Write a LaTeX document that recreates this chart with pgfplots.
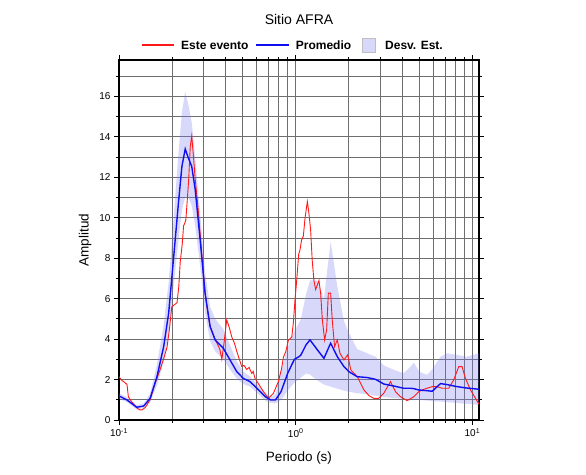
\documentclass[border=0pt]{standalone}
\usepackage{fontspec}
\setmainfont{Liberation Sans}
\usepackage{pgfplots}
\usepackage{pgfplotstable}
\pgfplotsset{compat=1.18}
\usepgfplotslibrary{fillbetween}
\definecolor{bandcol}{RGB}{216,216,250}
\definecolor{bandbase}{RGB}{120,120,240}
\definecolor{evred}{RGB}{255,25,25}
\definecolor{avblue}{RGB}{15,15,240}
\definecolor{gridcol}{RGB}{110,110,110}

\pgfplotstableread{
x m u l
0.100 1.19 1.32 1.05
0.111 0.99 1.12 0.88
0.126 0.63 0.74 0.52
0.138 0.69 0.82 0.58
0.150 1.07 1.30 0.88
0.164 2.14 2.75 1.70
0.179 3.63 4.70 2.90
0.191 5.28 6.80 4.30
0.204 8.08 10.00 6.60
0.217 10.73 13.20 8.90
0.227 12.54 15.20 10.40
0.237 13.40 16.25 11.00
0.247 12.95 15.60 11.00
0.258 12.54 14.70 10.60
0.270 11.39 13.00 9.60
0.288 8.90 10.20 7.60
0.307 6.27 7.30 5.30
0.328 4.62 5.60 3.90
0.350 3.96 5.00 3.40
0.389 3.55 4.50 3.00
0.425 2.97 3.70 2.50
0.464 2.39 2.90 2.05
0.505 2.06 2.40 1.78
0.551 1.90 2.15 1.65
0.603 1.57 1.80 1.35
0.674 1.15 1.35 0.95
0.721 0.99 1.15 0.85
0.768 0.99 1.25 0.82
0.826 1.40 2.40 0.99
0.901 2.31 3.60 1.45
0.983 3.00 4.40 1.85
1.044 3.13 4.80 2.00
1.071 3.22 5.00 2.10
1.143 3.71 6.20 2.30
1.205 3.96 6.90 2.25
1.326 3.47 6.90 1.95
1.445 3.05 6.00 1.75
1.577 3.80 8.83 1.65
1.720 3.13 6.60 1.55
1.875 2.64 4.90 1.45
2.000 2.39 4.30 1.40
2.230 2.14 3.50 1.32
2.540 2.10 3.30 1.28
2.830 2.01 3.13 1.20
3.150 1.78 2.70 1.14
3.590 1.68 2.48 1.08
4.080 1.57 2.31 1.04
4.470 1.57 2.64 1.01
4.660 1.55 2.84 1.00
5.000 1.48 2.39 0.99
5.540 1.45 2.23 0.96
5.920 1.42 2.50 0.93
6.600 1.80 3.13 0.91
7.200 1.75 3.30 0.88
8.180 1.65 3.22 0.84
9.310 1.58 3.13 0.80
10.90 1.52 3.30 0.74
}\avg

\pgfplotstableread{
x y
0.100 2.14
0.104 1.95
0.108 1.85
0.111 1.75
0.113 1.15
0.118 0.90
0.126 0.60
0.131 0.50
0.135 0.50
0.141 0.62
0.150 1.00
0.160 1.80
0.171 2.50
0.180 3.10
0.187 3.60
0.193 4.50
0.199 5.60
0.206 5.70
0.213 5.80
0.218 6.60
0.222 7.80
0.228 8.70
0.232 9.60
0.236 9.75
0.239 9.90
0.244 11.00
0.248 11.90
0.253 13.50
0.258 14.05
0.264 13.00
0.270 11.90
0.280 10.50
0.288 9.20
0.298 7.60
0.307 6.30
0.318 5.30
0.328 4.60
0.350 4.00
0.372 3.50
0.382 3.00
0.393 3.80
0.407 4.95
0.420 4.60
0.435 4.10
0.450 3.80
0.464 3.40
0.480 3.00
0.495 2.65
0.510 2.70
0.528 2.50
0.545 2.60
0.564 2.30
0.575 2.40
0.589 2.05
0.620 1.75
0.657 1.40
0.701 1.07
0.748 1.32
0.798 1.90
0.830 2.50
0.852 3.10
0.880 3.40
0.910 3.95
0.950 4.10
0.970 4.80
0.990 5.90
1.013 6.90
1.040 8.20
1.057 8.40
1.080 8.90
1.105 9.10
1.130 10.00
1.164 10.80
1.185 10.30
1.215 9.40
1.240 7.90
1.268 6.90
1.297 6.45
1.354 6.90
1.384 6.27
1.415 4.95
1.458 3.96
1.497 4.46
1.530 6.27
1.577 6.27
1.610 4.95
1.660 3.63
1.720 3.96
1.780 3.30
1.875 2.97
1.970 3.22
2.050 2.48
2.230 2.14
2.430 1.49
2.600 1.20
2.770 1.07
2.950 1.07
3.150 1.32
3.440 1.90
3.670 1.40
3.920 1.15
4.270 0.96
4.660 1.15
4.970 1.40
5.200 1.49
5.540 1.57
5.920 1.65
6.300 1.65
6.740 1.57
7.350 1.57
7.840 1.98
8.370 2.64
8.740 2.64
9.130 2.06
9.750 1.49
10.90 0.78
}\ev

\begin{document}
\begin{tikzpicture}[x=1bp,y=1bp]
\begin{axis}[
  at={(0,0)}, anchor=south west,
  scale only axis, width=360bp, height=360bp,
  xmode=log, xmin=0.1, xmax=10.9, ymin=0, ymax=17.8,
  xtick={0.1,1,10},
  xticklabels={10\textsuperscript{-1},10\textsuperscript{0},10\textsuperscript{1}},
  minor xtick={0.2,0.3,0.4,0.5,0.6,0.7,0.8,0.9,2,3,4,5,6,7,8,9},
  ytick={0,2,...,16}, minor ytick={1,3,...,17},
  grid=both,
  major grid style={gridcol, line width=0.9bp},
  minor grid style={gridcol, line width=0.9bp},
  tick align=outside,
  major tick length=5bp, minor tick length=3bp,
  tick style={black, line width=0.9bp},
  axis line style={black, line width=1.8bp},
  /pgf/number format/assume math mode=true,
  tick label style={font=\fontsize{10bp}{12bp}\selectfont},
  xlabel={Periodo (s)}, ylabel={Amplitud},
  label style={font=\fontsize{13.5bp}{16bp}\selectfont},
  xlabel style={at={(axis description cs:0.5,-0.1056)}, anchor=center},
  ylabel style={at={(axis description cs:-0.0944,0.5)}, anchor=center},
  title={Sitio AFRA},
  every axis title shift=0pt,
  title style={at={(axis description cs:0.5,1.112)}, anchor=center, font=\fontsize{14bp}{17bp}\selectfont},
]
\addplot[draw=none, name path=U, forget plot] table[x=x,y=u]{\avg};
\addplot[draw=none, name path=L, forget plot] table[x=x,y=l]{\avg};
\addplot[fill=bandbase, fill opacity=0.29, draw=none, forget plot] fill between[of=U and L];
\addplot[evred, line width=0.9bp, forget plot] table[x=x,y=y]{\ev};
\addplot[avblue, line width=1.4bp, forget plot] table[x=x,y=m]{\avg};
\end{axis}
% legend (keys and texts)
\begin{scope}[every node/.style={inner sep=0pt, anchor=base west, font=\fontsize{12bp}{14bp}\bfseries\selectfont}]
\draw[evred, line width=1.1bp] (23,375) -- (55,375);
\node at (62,370.7) {Este evento};
\draw[avblue, line width=1.6bp] (137,375) -- (170,375);
\node at (176.7,370.7) {Promedio};
\draw[fill=bandcol, draw=gray!50, line width=0.6bp] (243.7,367.5) rectangle (256.3,381.5);
\node at (266,370.7) {Desv. Est.};
\end{scope}
\pgfresetboundingbox
\path[use as bounding box] (-119,-55) rectangle (467,420);
\end{tikzpicture}
\end{document}
